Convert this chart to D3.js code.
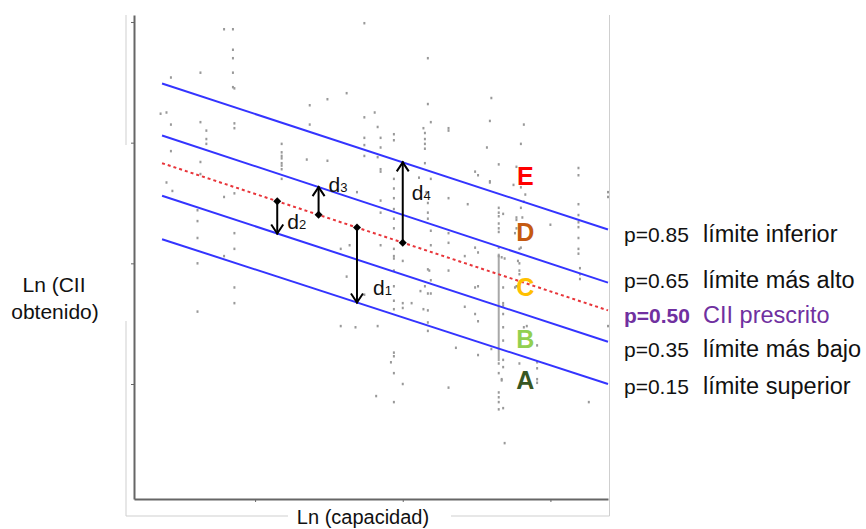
<!doctype html>
<html lang="es">
  <head>
    <meta charset="UTF-8" />
    <title>Ln (CII obtenido) vs Ln (capacidad)</title>
    <script src="https://d3js.org/d3.v7.min.js"></script>
    <style>
      body {
        margin: 0;
        background: #fff;
        font-family: 'Liberation Sans', Arial, sans-serif;
      }
      svg text {
        font-family: 'Liberation Sans', Arial, sans-serif;
      }
      .axis path,
      .axis line {
        stroke: #666;
      }
    </style>
  </head>
  <body>
    <svg id="chart" width="866" height="529"></svg>

    <script>
      // Axis ticks (no labels in the original)
      const xTicks = [8, 9, 10]
      const yTicks = [1, 2, 3, 4]

      // Quantile lines: value at the left end and at the right end
      const quantiles = ['0.85', '0.65', '0.50', '0.35', '0.15']
      const limitNames = ['límite inferior', 'límite más alto', 'CII prescrito', 'límite más bajo', 'límite superior']
      const lineX = [7.37, 10.39]
      const lineStart = [3.49, 3.06, 2.83, 2.56, 2.2]
      const lineEnd = [2.28, 1.84, 1.61, 1.35, 1.0]

      // Rating bands
      const grades = ['E', 'D', 'C', 'B', 'A']
      const gradeColors = ['#ff0000', '#c55a11', '#ffc000', '#92d050', '#375623']
      const gradeX = 9.83
      const gradeY = [2.72, 2.26, 1.8, 1.37, 1.03]

      // Distances from the prescribed line
      const gapNames = ['1', '2', '3', '4']
      const gapX = [8.69, 8.15, 8.43, 9.0]
      const gapTarget = ['0.15', '0.35', '0.65', '0.85']

      // Ships: [Ln capacidad, Ln CII]
      const ships = [
        [7.79, 3.94], [7.85, 3.94], [7.85, 3.77], [7.85, 3.7], [7.85, 3.58], [7.85, 3.46], [7.86, 3.45],
        [7.63, 3.58], [7.43, 3.54], [7.36, 3.24], [7.4, 3.25], [7.43, 3.15], [7.63, 3.17], [7.67, 3.1],
        [7.67, 3.03], [7.67, 2.99], [7.86, 3.16], [7.86, 3.12], [7.43, 2.93], [7.63, 2.84],
        [8.18, 2.99], [8.18, 2.92], [8.18, 2.89], [8.18, 2.87], [8.18, 2.83], [8.18, 2.81], [8.18, 2.78], [8.18, 2.7],
        [7.63, 2.74], [7.4, 2.67], [7.44, 2.6], [7.79, 2.55], [7.86, 2.58], [7.61, 2.44], [7.61, 2.35],
        [7.61, 2.21], [7.86, 2.25], [7.86, 2.12], [7.79, 2.06],
        [8.74, 3.99], [9.17, 3.7], [8.62, 3.41], [8.49, 3.36], [8.37, 3.31], [8.81, 3.25], [9.17, 3.32],
        [8.74, 3.21], [8.37, 3.15], [8.83, 3.13], [9.19, 3.17], [9.14, 3.12], [9.15, 3.08], [9.15, 3.03],
        [9.15, 2.99], [9.15, 2.95], [9.15, 2.83], [8.94, 3.07], [8.94, 3.02], [8.74, 3.04], [8.74, 2.98],
        [8.74, 2.89], [8.85, 3.04], [8.85, 2.96], [9.31, 3.12], [9.31, 3.1], [8.35, 2.86], [8.49, 2.85],
        [8.83, 2.88], [8.85, 2.78], [8.85, 2.76], [8.94, 2.7], [8.94, 2.62], [8.94, 2.54], [8.94, 2.45],
        [8.94, 2.37], [8.94, 2.29], [8.94, 2.12], [8.94, 2.06], [9.11, 2.71], [9.19, 2.7], [9.16, 2.59],
        [9.17, 2.5], [9.17, 2.42], [9.17, 2.37], [9.31, 2.54], [8.69, 2.59], [8.85, 2.52], [8.85, 2.42],
        [9.19, 2.27], [9.31, 2.25], [9.19, 2.15], [9.31, 2.17], [8.64, 2.15], [8.58, 2.12], [8.85, 2.15],
        [9.6, 3.37], [9.59, 3.18], [9.82, 3.15], [9.57, 2.96], [9.8, 2.99], [9.65, 2.82], [9.77, 2.8],
        [9.49, 2.76], [9.51, 2.73], [9.59, 2.68], [9.59, 2.67], [9.75, 2.65], [9.8, 2.63], [10.19, 2.79],
        [10.19, 2.73], [10.39, 2.59], [10.39, 2.55], [9.83, 2.57], [9.82, 2.51], [9.8, 2.46], [9.44, 2.49],
        [9.65, 2.46], [9.65, 2.42], [9.65, 2.39], [9.65, 2.33], [9.65, 2.29], [9.65, 2.26], [9.68, 2.41],
        [10.19, 2.49], [10.19, 2.4], [10.19, 2.34], [10.19, 2.3], [9.77, 2.38], [9.77, 2.36], [9.81, 2.38],
        [10.0, 2.32], [9.76, 2.25], [9.77, 2.29], [10.19, 2.21], [10.19, 2.12], [10.19, 2.08], [9.8, 2.13],
        [9.79, 2.12], [9.49, 2.13], [9.51, 2.09], [9.65, 2.13], [9.65, 2.06], [9.67, 2.05], [9.69, 2.04],
        [9.42, 2.06],
        [7.61, 2.0], [7.86, 1.8], [7.86, 1.67], [7.61, 1.6],
        [8.94, 2.04], [8.94, 1.94], [8.94, 1.81], [8.94, 1.69], [8.94, 1.62], [9.0, 2.02], [8.62, 1.89],
        [9.17, 1.95], [9.18, 1.94], [9.31, 1.94], [9.19, 1.86], [9.15, 1.81], [9.12, 1.77], [9.17, 1.75],
        [9.19, 1.75], [8.74, 1.74], [9.0, 1.67], [9.0, 1.63], [9.06, 1.67], [9.14, 1.62], [9.17, 1.61],
        [9.17, 1.51], [9.17, 1.44], [8.58, 1.48], [8.68, 1.47], [8.83, 1.48], [8.94, 1.26], [8.94, 1.23],
        [8.92, 1.18], [8.94, 1.09], [9.0, 1.0], [9.31, 0.97], [8.82, 0.9], [8.94, 0.85],
        [9.78, 2.02], [9.79, 2.0], [9.79, 1.94], [9.79, 1.91], [10.2, 1.96], [10.2, 1.91], [10.2, 1.87],
        [9.49, 1.8], [9.51, 1.81], [9.68, 1.8], [9.76, 1.8], [9.77, 1.81], [9.42, 1.64], [9.49, 1.58],
        [9.51, 1.52], [9.68, 1.67], [9.68, 1.65], [9.68, 1.58], [9.68, 1.47], [9.82, 1.47], [9.84, 1.48],
        [9.68, 1.36], [9.91, 1.32], [9.36, 1.3], [9.6, 1.29], [9.51, 1.24], [9.65, 1.17], [9.68, 1.2],
        [9.68, 1.14], [9.79, 1.17], [9.91, 1.18], [9.91, 1.13], [9.91, 1.04], [9.91, 1.01], [9.65, 1.09],
        [9.67, 1.04], [9.67, 1.03], [9.65, 0.93], [9.65, 0.89], [9.65, 0.85], [9.65, 0.79], [9.68, 0.8],
        [10.26, 0.85], [10.39, 1.48], [9.69, 0.51],
      ]

      // A dense stack of ships at one capacity: [x, yLow, yHigh]
      const shipStack = [9.65, 1.19, 2.08]

      const svg = d3.select('#chart')
      const plotLeft = 134
      const plotRight = 608
      const plotTop = 15
      const plotBottom = 499

      const x = d3.scaleLinear().domain([7.18, 10.39]).range([plotLeft, plotRight])
      const y = d3.scaleLinear().domain([0.047, 4.058]).range([plotBottom, plotTop])

      const valueAt = (i, xv) =>
        lineStart[i] + ((xv - lineX[0]) / (lineX[1] - lineX[0])) * (lineEnd[i] - lineStart[i])

      // Light frame around the figure (broken where it was in the original)
      const frame = svg.append('g').attr('stroke', '#cfcfcf').attr('stroke-width', 1)
      frame.append('line').attr('x1', 126).attr('x2', 126).attr('y1', 15).attr('y2', 145)
      frame.append('line').attr('x1', 126).attr('x2', 126).attr('y1', 321).attr('y2', 516)
      frame.append('line').attr('x1', 126).attr('x2', 288).attr('y1', 516).attr('y2', 516)
      frame.append('line').attr('x1', 451).attr('x2', 609.5).attr('y1', 516).attr('y2', 516)
      frame.append('line').attr('x1', 609.5).attr('x2', 609.5).attr('y1', 15).attr('y2', 516)

      // Axes
      svg
        .append('g')
        .attr('class', 'axis')
        .attr('transform', `translate(0,${plotBottom})`)
        .call(d3.axisBottom(x).tickValues(xTicks).tickSize(3).tickSizeOuter(0).tickFormat(''))
        .select('.domain')
        .attr('stroke-width', 2)

      svg
        .append('g')
        .attr('class', 'axis')
        .attr('transform', `translate(${plotLeft},0)`)
        .call(d3.axisLeft(y).tickValues(yTicks).tickSize(3).tickSizeOuter(0).tickFormat(''))
        .select('.domain')
        .attr('stroke-width', 2)

      // Ships
      svg
        .append('line')
        .attr('x1', x(shipStack[0]))
        .attr('x2', x(shipStack[0]))
        .attr('y1', y(shipStack[1]))
        .attr('y2', y(shipStack[2]))
        .attr('stroke', '#a8a8a8')
        .attr('stroke-width', 2)

      svg
        .append('g')
        .selectAll('rect')
        .data(ships)
        .enter()
        .append('rect')
        .attr('x', (d) => x(d[0]) - 1)
        .attr('y', (d) => y(d[1]) - 1.25)
        .attr('width', 2)
        .attr('height', 2.5)
        .attr('fill', '#999')

      // Quantile lines
      svg
        .append('g')
        .selectAll('line')
        .data(quantiles)
        .enter()
        .append('line')
        .attr('x1', x(lineX[0]))
        .attr('x2', x(lineX[1]))
        .attr('y1', (d, i) => y(lineStart[i]))
        .attr('y2', (d, i) => y(lineEnd[i]))
        .attr('stroke', (d) => (d === '0.50' ? '#e8353a' : '#3434ff'))
        .attr('stroke-width', 2)
        .attr('stroke-dasharray', (d) => (d === '0.50' ? '3,3' : null))

      // Distance arrows
      const mid = quantiles.indexOf('0.50')
      const labelOffset = { 1: [16, 0.9], 2: [10, 0.85], 3: [10, 0.84], 4: [9, 0.53] }
      const arrows = svg.append('g')
      gapNames.forEach((name, k) => {
        const px = x(gapX[k])
        const y1 = y(valueAt(mid, gapX[k]))
        const y2 = y(valueAt(quantiles.indexOf(gapTarget[k]), gapX[k]))
        const dir = y2 > y1 ? -1 : 1
        arrows
          .append('line')
          .attr('x1', px)
          .attr('x2', px)
          .attr('y1', y1)
          .attr('y2', y2 - dir)
          .attr('stroke', '#000')
          .attr('stroke-width', 2)
        arrows
          .append('path')
          .attr('d', `M${px - 6},${y2 + dir * 9} L${px},${y2} L${px + 6},${y2 + dir * 9}`)
          .attr('fill', 'none')
          .attr('stroke', '#000')
          .attr('stroke-width', 2)
        arrows
          .append('path')
          .attr('d', `M${px},${y1 - 4} L${px + 4},${y1} L${px},${y1 + 4} L${px - 4},${y1} Z`)
          .attr('fill', '#000')
        const [dx, f] = labelOffset[name]
        const t = arrows
          .append('text')
          .attr('x', px + dx)
          .attr('y', y1 + (y2 - y1) * f)
          .attr('font-size', 21)
          .attr('fill', '#111')
        t.append('tspan').text('d')
        t.append('tspan').attr('font-size', 13).text(name)
      })

      // Rating letters
      svg
        .append('g')
        .selectAll('text')
        .data(grades)
        .enter()
        .append('text')
        .attr('x', x(gradeX))
        .attr('y', (d, i) => y(gradeY[i]))
        .attr('dy', '0.36em')
        .attr('text-anchor', 'middle')
        .attr('font-size', 25)
        .attr('font-weight', 'bold')
        .attr('fill', (d, i) => gradeColors[i])
        .text((d) => d)

      // Quantile legend on the right
      const legendBaselines = [242, 288, 323, 357, 394]
      const legend = svg
        .append('g')
        .selectAll('g')
        .data(quantiles)
        .enter()
        .append('g')
        .attr('transform', (d, i) => `translate(0,${legendBaselines[i]})`)
      legend
        .append('text')
        .attr('x', 624)
        .attr('font-size', 21)
        .attr('font-weight', (d) => (d === '0.50' ? 'bold' : null))
        .attr('fill', (d) => (d === '0.50' ? '#7030a0' : '#111'))
        .text((d) => `p=${d}`)
      legend
        .append('text')
        .attr('x', 703)
        .attr('font-size', 23.5)
        .attr('fill', (d) => (d === '0.50' ? '#7030a0' : '#111'))
        .text((d, i) => limitNames[i])

      // Axis titles
      const yTitle = svg
        .append('text')
        .attr('text-anchor', 'middle')
        .attr('font-size', 21)
        .attr('fill', '#111')
      yTitle.append('tspan').attr('x', 54).attr('y', 292).text('Ln (CII')
      yTitle.append('tspan').attr('x', 55).attr('y', 319).text('obtenido)')

      svg
        .append('text')
        .attr('x', 363)
        .attr('y', 524)
        .attr('text-anchor', 'middle')
        .attr('font-size', 20)
        .attr('fill', '#111')
        .text('Ln (capacidad)')
    </script>
  </body>
</html>
